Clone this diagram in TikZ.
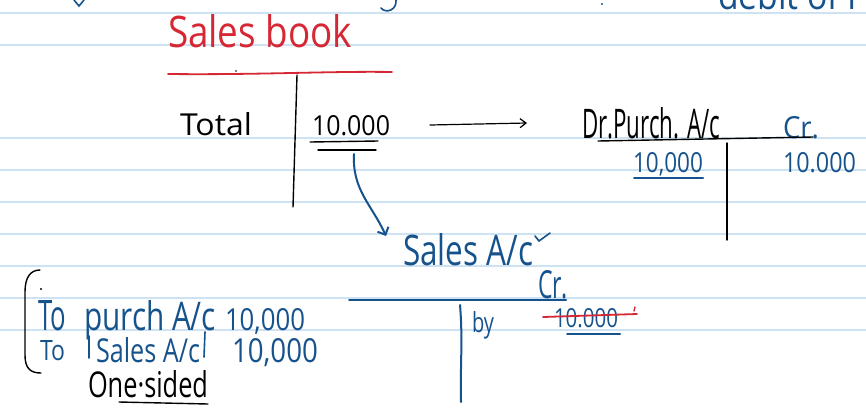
\documentclass[tikz,border=0pt]{standalone}
\usepackage{fontspec}
\usepackage{graphicx}
\newfontfamily\hand{Open Sans}
\usetikzlibrary{arrows.meta}
\definecolor{ink}{RGB}{22,82,140}
\definecolor{redink}{RGB}{214,40,52}
\definecolor{paper}{RGB}{205,226,242}
\newcommand\hw[3]{\resizebox{#1pt}{#2pt}{#3}}
\tikzset{
  txt/.style={inner sep=0pt, outer sep=0pt, font=\hand, anchor=base west},
  bluetxt/.style={txt, text=ink},
  blacktxt/.style={txt, text=black},
  redtxt/.style={txt, text=redink},
  bluerule/.style={line width=2pt, line cap=round, draw=ink},
  blackrule/.style={line width=1.4pt, line cap=round, draw=black},
  redrule/.style={line width=1.8pt, line cap=round, draw=redink},
  paperline/.style={line width=1.2pt, draw=paper},
}
\begin{document}
\begin{tikzpicture}[x=1pt,y=-1pt]
\useasboundingbox (0,0) rectangle (866,413);
\fill[white] (0,0) rectangle (866,413);
% ruled paper
\foreach \yy in {13,45,138,170,202,234,266,298,330}
  \draw[paperline] (0,\yy) -- (866,\yy);
% cut-off writing along the top edge
\begin{scope}
\clip (0,0) rectangle (866,413);
\node[bluetxt] (topright) at (718,9) {\hw{150}{30}{debit of P}};
\draw[bluerule, line width=1.6pt] (74,0) -- (79,6) -- (84,0);
\draw[bluerule, line width=1.6pt] (396,0) .. controls (397,10) and (386,14) .. (381,8);
\fill[ink] (602,4) circle (1.2);
\end{scope}
% ---------- Sales book ----------
\node[redtxt] (salesbook) at (168,47) {\hw{184}{33}{Sales book}};
\coordinate (sbL) at (168,74);
\coordinate (sbR) at (392,72);
\draw[redrule] (sbL) .. controls (260,75) and (330,71) .. (sbR);
\fill[black] (236,71) circle (0.9);
\coordinate (sbT) at (297,75);
\coordinate (sbB) at (293,207);
\draw[blackrule] (sbT) -- (sbB);
\node[blacktxt] (total) at (180,135) {\hw{72}{23}{Total}};
\node[blacktxt] (sbamt) at (312,135) {\hw{78}{20}{10.000}};
\coordinate (u1a) at (310,142); \coordinate (u1b) at (378,141);
\coordinate (u2a) at (318,150); \coordinate (u2b) at (376,150);
\draw[blackrule] (u1a) -- (u1b);
\draw[blackrule] (u2a) -- (u2b);
% arrow to purchases account
\coordinate (arA) at (430,125);
\coordinate (arB) at (527,123);
\draw[blackrule, line width=1.2pt, -{Straight Barb[length=6pt,width=9pt]}] (arA) -- (arB);
% ---------- Purchases account ----------
\node[blacktxt] (purch) at (582,138) {\hw{138}{31}{Dr.Purch. A/c}};
\node[bluetxt] (pcr) at (783,138) {\hw{36}{22}{Cr.}};
\coordinate (pL) at (598,141);
\coordinate (pR) at (813,137);
\draw[blackrule] (pL) -- (pR);
\coordinate (pT) at (727,143);
\coordinate (pB) at (727,240);
\draw[blackrule] (pT) -- (pB);
\node[bluetxt] (pdr) at (633,172) {\hw{70}{20}{10,000}};
\coordinate (pu1) at (634,178); \coordinate (pu2) at (703,178);
\draw[bluerule] (pu1) -- (pu2);
\node[bluetxt] (pcramt) at (783,172) {\hw{73}{20}{10.000}};
% blue arrow to sales account
\coordinate (baA) at (354,154);
\coordinate (baB) at (386,236);
\draw[bluerule, -{Straight Barb[length=6pt,width=12pt]}] (baA) .. controls (352,190) and (372,205) .. (baB);
% ---------- Sales account ----------
\node[bluetxt] (salesac) at (403,265) {\hw{130}{32}{Sales A/c}};
\draw[bluerule, line width=1.6pt] (535,236) -- (539,241) -- (550,233);
\node[bluetxt] (scr) at (538,298) {\hw{30}{28}{Cr.}};
\coordinate (sL) at (349,300);
\coordinate (sR) at (566,300);
\draw[bluerule] (sL) -- (sR);
\coordinate (sT) at (460,305);
\coordinate (sB) at (461,402);
\draw[bluerule] (sT) .. controls (463,340) and (460,370) .. (sB);
\node[bluetxt] (by) at (472,332) {\hw{22}{21}{by}};
\node[bluetxt] (samt) at (554,327) {\hw{64}{19}{10.000}};
\coordinate (st1) at (543,317); \coordinate (st2) at (637,314);
\draw[redrule] (st1) -- (st2);
\draw[redrule, line width=1.4pt] (635,307) -- (634,311);
\coordinate (su1) at (567,334); \coordinate (su2) at (620,334);
\draw[bluerule] (su1) -- (su2);
% ---------- one-sided entries ----------
\coordinate (brT) at (40,270);
\coordinate (brB) at (41,373);
\draw[blackrule] (brT) .. controls (30,270) and (25,278) .. (25,292) -- (25,355) .. controls (25,368) and (30,373) .. (brB);
\fill[black] (41,289) circle (1.1);
\node[bluetxt] (to1) at (38,330) {\hw{28}{30}{To}};
\node[bluetxt] (purchac) at (84,330) {\hw{132}{30}{purch A/c}};
\node[bluetxt] (amt1) at (225,330) {\hw{80}{22}{10,000}};
\node[bluetxt] (to2) at (40,360) {\hw{25}{20}{To}};
\node[bluetxt] (salesac2) at (96,362) {\hw{104}{25}{Sales A/c}};
\node[bluetxt] (amt2) at (232,362) {\hw{86}{24}{10,000}};
\draw[bluerule, line width=1.6pt] (89,336) -- (89,358);
\draw[bluerule, line width=1.6pt] (205,332) -- (204,357);
\node[blacktxt] (onesided) at (88,397) {\hw{120}{27}{One·sided}};
\coordinate (os1) at (119,402); \coordinate (os2) at (208,404);
\draw[blackrule] (os1) -- (os2);
\end{tikzpicture}
\end{document}
